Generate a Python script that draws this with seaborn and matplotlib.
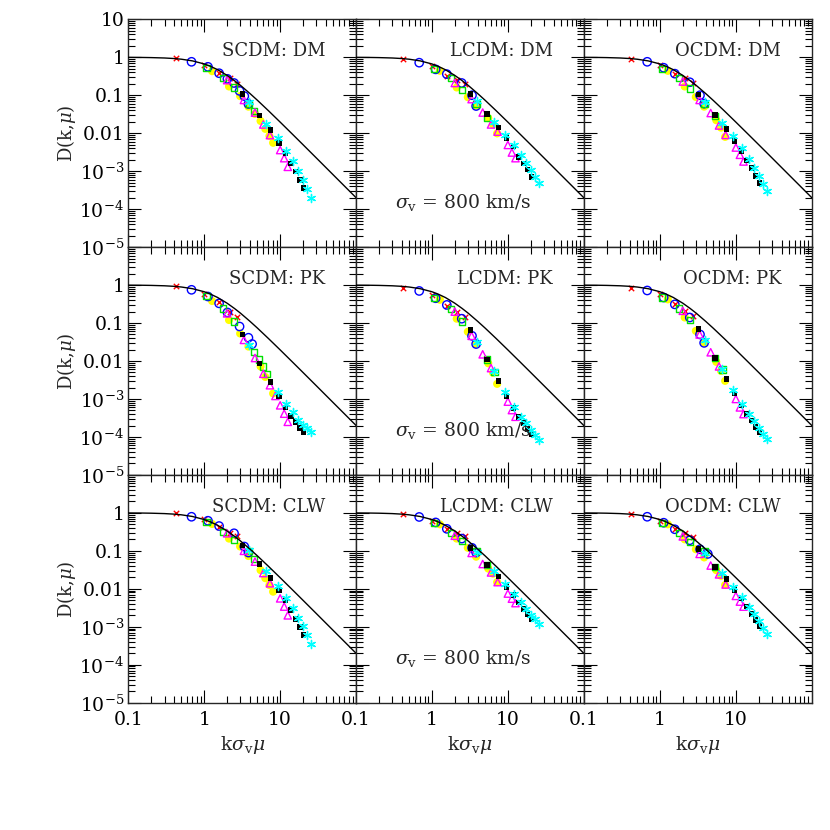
import numpy as np
import pandas as pd
import matplotlib
matplotlib.use("Agg")
import matplotlib.pyplot as plt
import seaborn as sns
from matplotlib.ticker import FixedLocator, FixedFormatter, LogLocator, NullFormatter

nan = np.nan

# ---------------- theory curve ----------------
curve_x = [0.1, 0.15, 0.2, 0.3, 0.4, 0.5, 0.7, 1.0, 1.2, 1.5, 2.0, 2.5, 3.0, 4.0, 5.0,
           7.0, 10.0, 15.0, 20.0, 30.0, 50.0, 70.0, 100.0]
curve_y = [0.995, 0.989, 0.980, 0.957, 0.926, 0.889, 0.803, 0.667, 0.581, 0.471, 0.333,
           0.242, 0.182, 0.111, 0.0741, 0.0392, 0.0196, 0.00881, 0.00498, 0.00222,
           0.000799, 0.000408, 0.0002]

# ---------------- x positions of each series ----------------
red_x = [0.42, 1.0, 1.58, 2.16, 2.74]
blue_x = [0.68, 1.12, 1.57, 2.02, 2.47, 2.92, 3.37, 3.82, 4.27]
green_x = [1.07, 1.77, 2.47, 3.17, 3.87, 4.57, 5.27, 5.97, 6.67]
yellow_x = [1.27, 2.12, 2.97, 3.82, 4.67, 5.52, 6.37, 7.22, 8.07]
magenta_x = [2.0, 3.33, 4.66, 6.0, 7.33, 8.66, 10.0, 11.3, 12.6]
black_x = [3.2, 5.35, 7.5, 9.65, 11.8, 13.95, 16.1, 18.25, 20.4]
cyan_x = [3.9, 6.6, 9.3, 12.0, 14.7, 17.4, 20.1, 22.8, 25.5]

# ---------------- y values, panel by panel ----------------
scdm_dm = dict(
    red=[0.94, 0.63, 0.39, 0.29, 0.20],
    blue=[0.76, 0.56, 0.38, 0.27, 0.21, 0.13, 0.095, 0.059, nan],
    green=[0.52, 0.28, 0.16, nan, 0.06, 0.038, nan, nan, nan],
    yellow=[0.43, 0.17, 0.095, 0.05, 0.032, 0.021, 0.013, 0.0085, 0.0056],
    magenta=[0.25, 0.075, 0.035, 0.017, 0.0089, nan, 0.0036, 0.0022, 0.0013],
    black=[0.106, 0.029, 0.012, 0.0056, 0.0030, 0.0016, 0.00098, 0.00059, 0.00036],
    cyan=[0.065, 0.018, 0.0074, 0.0035, 0.0018, 0.00098, 0.00059, 0.00034, 0.0002],
)
lcdm_dm = dict(
    red=[0.89, 0.58, 0.33, 0.25, 0.20],
    blue=[0.72, 0.48, 0.36, nan, 0.21, nan, 0.10, 0.052, nan],
    green=[0.48, 0.28, 0.14, nan, 0.06, nan, 0.025, nan, nan],
    yellow=[0.44, 0.16, 0.089, 0.053, nan, 0.025, 0.017, 0.0099, nan],
    magenta=[0.21, 0.079, 0.035, 0.017, 0.011, nan, 0.0049, 0.0031, 0.0022],
    black=[0.107, 0.032, 0.014, 0.0074, 0.0045, 0.0024, 0.0016, 0.0011, 0.00071],
    cyan=[0.07, 0.020, 0.0089, 0.0049, 0.0027, 0.0016, 0.0011, 0.00071, 0.0005],
)
ocdm_dm = dict(
    red=[0.92, 0.62, 0.37, 0.28, 0.21],
    blue=[0.76, 0.53, 0.37, nan, 0.22, nan, 0.10, 0.06, nan],
    green=[0.50, 0.28, 0.15, nan, 0.06, nan, 0.028, nan, nan],
    yellow=[0.44, 0.17, 0.09, 0.05, nan, 0.022, 0.014, 0.008, nan],
    magenta=[0.23, 0.075, 0.034, 0.016, 0.009, nan, 0.0042, 0.0027, 0.0018],
    black=[0.105, 0.03, 0.013, 0.0062, 0.0034, 0.0019, 0.0012, 0.00075, 0.00048],
    cyan=[0.068, 0.019, 0.0082, 0.004, 0.0021, 0.0012, 0.00075, 0.00045, 0.0003],
)
scdm_pk = dict(
    red=[0.92, 0.59, 0.35, 0.20, 0.14],
    blue=[0.75, 0.50, 0.33, 0.19, nan, 0.081, nan, 0.041, 0.028],
    green=[0.52, 0.24, 0.11, nan, nan, 0.017, 0.011, 0.0072, 0.0045],
    yellow=[0.38, 0.12, 0.053, 0.024, nan, 0.0072, 0.0038, nan, 0.0014],
    magenta=[0.18, 0.036, 0.012, 0.0046, 0.0023, 0.0012, 0.00068, 0.00041, 0.00025],
    black=[0.050, 0.0085, 0.0028, 0.0012, 0.00059, 0.00035, 0.00025, 0.00017, 0.00013],
    cyan=[0.026, nan, 0.0015, 0.00074, 0.00045, 0.00028, 0.00021, 0.00017, 0.000135],
)
lcdm_pk = dict(
    red=[0.82, 0.55, 0.28, 0.19, 0.14],
    blue=[0.70, 0.45, 0.30, nan, 0.13, nan, 0.046, 0.028, nan],
    green=[0.45, 0.23, 0.11, nan, nan, nan, 0.011, nan, 0.0052],
    yellow=[0.41, 0.13, 0.059, 0.028, nan, 0.0087, 0.0049, 0.0025, nan],
    magenta=[0.20, 0.046, 0.015, 0.0065, nan, nan, 0.00085, 0.00051, 0.00034],
    black=[0.066, 0.011, 0.0030, 0.0012, 0.00057, 0.00034, 0.00023, 0.00016, 0.00012],
    cyan=[0.032, 0.0053, 0.0015, 0.00063, 0.00034, 0.00023, 0.00015, 0.00011, 0.000083],
)
ocdm_pk = dict(
    red=[0.86, 0.57, 0.31, 0.21, 0.15],
    blue=[0.72, 0.47, 0.31, nan, 0.14, nan, 0.05, 0.03, nan],
    green=[0.47, 0.24, 0.12, nan, nan, nan, 0.012, nan, 0.006],
    yellow=[0.42, 0.14, 0.062, 0.03, nan, 0.0095, 0.0055, 0.003, nan],
    magenta=[0.21, 0.05, 0.017, 0.0072, nan, nan, 0.001, 0.0006, 0.0004],
    black=[0.07, 0.012, 0.0034, 0.0014, 0.00068, 0.0004, 0.00027, 0.00018, 0.00013],
    cyan=[0.035, 0.006, 0.0017, 0.00072, 0.0004, 0.00026, 0.00017, 0.00012, 0.00009],
)
scdm_clw = dict(
    red=[0.98, 0.68, 0.42, 0.29, 0.24],
    blue=[0.79, 0.62, 0.45, nan, 0.29, nan, 0.13, 0.09, nan],
    green=[0.58, 0.32, 0.19, nan, 0.10, 0.06, nan, nan, nan],
    yellow=[0.51, 0.21, 0.13, 0.073, nan, 0.031, 0.019, 0.0126, 0.0084],
    magenta=[0.29, 0.10, 0.052, 0.026, 0.014, nan, 0.0056, 0.0034, 0.0020],
    black=[0.14, 0.045, 0.019, 0.0093, 0.0049, 0.0028, 0.0016, 0.0010, 0.00061],
    cyan=[0.105, 0.030, 0.0117, 0.0056, 0.0031, 0.0017, 0.00105, 0.00061, 0.00036],
)
lcdm_clw = dict(
    red=[0.92, 0.62, 0.38, 0.30, 0.24],
    blue=[0.78, 0.56, 0.38, nan, 0.21, nan, 0.12, 0.09, nan],
    green=[0.54, 0.30, 0.18, nan, 0.10, nan, 0.042, nan, nan],
    yellow=[0.50, 0.21, 0.12, 0.07, nan, 0.034, 0.025, 0.015, nan],
    magenta=[0.25, 0.088, 0.045, 0.027, 0.015, nan, 0.0075, 0.0055, 0.0042],
    black=[0.12, 0.042, 0.021, 0.011, 0.0068, 0.0043, 0.0029, 0.0021, 0.0016],
    cyan=[0.095, 0.03, 0.0135, 0.0075, 0.0045, 0.003, 0.0021, 0.0016, 0.0012],
)
ocdm_clw = dict(
    red=[0.93, 0.62, 0.37, 0.29, 0.23],
    blue=[0.79, 0.55, 0.37, nan, 0.19, nan, 0.11, nan, 0.083],
    green=[0.53, 0.29, 0.17, nan, 0.096, nan, 0.038, nan, nan],
    yellow=[0.50, 0.20, 0.11, 0.067, nan, 0.031, 0.022, 0.0126, nan],
    magenta=[0.24, 0.083, 0.041, 0.024, 0.013, nan, 0.0065, 0.0046, 0.0034],
    black=[0.11, 0.038, 0.018, 0.0093, 0.0056, 0.0034, 0.0022, 0.0015, 0.00105],
    cyan=[0.09, 0.026, 0.0114, 0.006, 0.0034, 0.0022, 0.0014, 0.00091, 0.00065],
)

row_names = ["DM", "PK", "CLW"]
col_names = ["SCDM", "LCDM", "OCDM"]
panel_data = [[scdm_dm, lcdm_dm, ocdm_dm],
              [scdm_pk, lcdm_pk, ocdm_pk],
              [scdm_clw, lcdm_clw, ocdm_clw]]

y_ticks = [1e-5, 1e-4, 1e-3, 1e-2, 1e-1, 1, 10]
y_labels = [r"10$^{-5}$", r"10$^{-4}$", r"10$^{-3}$", "0.01", "0.1", "1", "10"]
x_ticks = [0.1, 1, 10, 100]
x_labels = ["0.1", "1", "10", ""]

# ---------------- styling ----------------
sns.set_style("ticks")
plt.rcParams["font.family"] = ["DejaVu Serif"]
plt.rcParams["mathtext.fontset"] = "dejavuserif"
plt.rcParams["axes.linewidth"] = 1.0

series_style = [
    # name, x, marker, size, filled, color, lw
    ("yellow", yellow_x, "o", 34, True, "#ffff00", 0.0),
    ("red", red_x, "x", 15, False, "#ff0000", 1.0),
    ("blue", blue_x, "o", 36, False, "#0000ff", 1.0),
    ("green", green_x, "s", 20, False, "#00e000", 1.0),
    ("magenta", magenta_x, "^", 28, False, "#ff00ff", 1.0),
    ("black", black_x, "s", 16, True, "#000000", 0.0),
    ("cyan", cyan_x, (6, 2, 0), 34, False, "#00ffff", 1.0),
]

fig = plt.figure(figsize=(8.3, 8.3), dpi=100)
W = 830.0
lefts = [128.3, 356.0, 584.0]
tops = [19.3, 247.1, 474.9]
pw, ph = 227.8, 227.8

for r in range(3):
    for c in range(3):
        ax = fig.add_axes([lefts[c] / W, 1 - (tops[r] + ph) / W, pw / W, ph / W])
        ax.set_xscale("log")
        ax.set_yscale("log")
        data = panel_data[r][c]
        for name, xs, mk, s, filled, col, lw in series_style:
            df = pd.DataFrame({"x": xs, "y": data[name]}).dropna()
            if filled:
                sns.scatterplot(data=df, x="x", y="y", ax=ax, marker=mk, s=s,
                                color=col, edgecolor="none", linewidth=0, zorder=3)
            elif mk in ("x",) or isinstance(mk, tuple):
                sns.scatterplot(data=df, x="x", y="y", ax=ax, marker=mk, s=s,
                                color=col, linewidth=lw, zorder=3)
            else:
                sns.scatterplot(data=df, x="x", y="y", ax=ax, marker=mk, s=s,
                                facecolor="none", edgecolor=col, linewidth=lw, zorder=3)
        cdf = pd.DataFrame({"x": curve_x, "y": curve_y})
        sns.lineplot(data=cdf, x="x", y="y", ax=ax, color="black", lw=1.0,
                     sort=False, estimator=None, zorder=4)

        ax.set_xlim(0.1, 100)
        ax.set_ylim(1e-5, 10)
        ax.xaxis.set_major_locator(FixedLocator(x_ticks))
        ax.yaxis.set_major_locator(FixedLocator(y_ticks))
        ax.xaxis.set_minor_locator(LogLocator(base=10, subs=np.arange(2, 10), numticks=30))
        ax.yaxis.set_minor_locator(LogLocator(base=10, subs=np.arange(2, 10), numticks=30))
        ax.xaxis.set_minor_formatter(NullFormatter())
        ax.yaxis.set_minor_formatter(NullFormatter())
        if r == 2:
            ax.xaxis.set_major_formatter(FixedFormatter(x_labels))
        else:
            ax.xaxis.set_major_formatter(NullFormatter())
        if c == 0:
            labs = list(y_labels)
            if r > 0:
                labs[-1] = ""
            ax.yaxis.set_major_formatter(FixedFormatter(labs))
        else:
            ax.yaxis.set_major_formatter(NullFormatter())
        ax.tick_params(which="both", direction="in", top=True, right=True,
                       width=0.8, labelsize=13.5, colors="black")
        ax.tick_params(which="major", length=9.5)
        ax.tick_params(which="minor", length=4.7)
        ax.tick_params(axis="x", pad=6)
        ax.tick_params(axis="y", pad=3)
        ax.set_xlabel("")
        ax.set_ylabel("")
        for sp in ax.spines.values():
            sp.set_visible(True)
            sp.set_linewidth(1.0)

        ax.text(0.865, 0.86, f"{col_names[c]}: {row_names[r]}", transform=ax.transAxes,
                ha="right", va="center", fontsize=13)
        if c == 1:
            ax.text(0.17, 0.195, r"$\sigma_\mathrm{v}$ = 800 km/s", transform=ax.transAxes,
                    ha="left", va="center", fontsize=13.5)

# axis titles
for r in range(3):
    yc = 1 - (tops[r] + ph / 2) / W
    fig.text(66 / W, yc, r"D(k,$\mu$)", rotation=90, ha="center", va="center", fontsize=13)
for c in range(3):
    xc = (lefts[c] + pw / 2) / W
    fig.text(xc, 1 - 745 / W, r"k$\sigma_\mathrm{v}\mu$", ha="center", va="center", fontsize=13.5)

fig.savefig("out.png", dpi=100, facecolor="white")
